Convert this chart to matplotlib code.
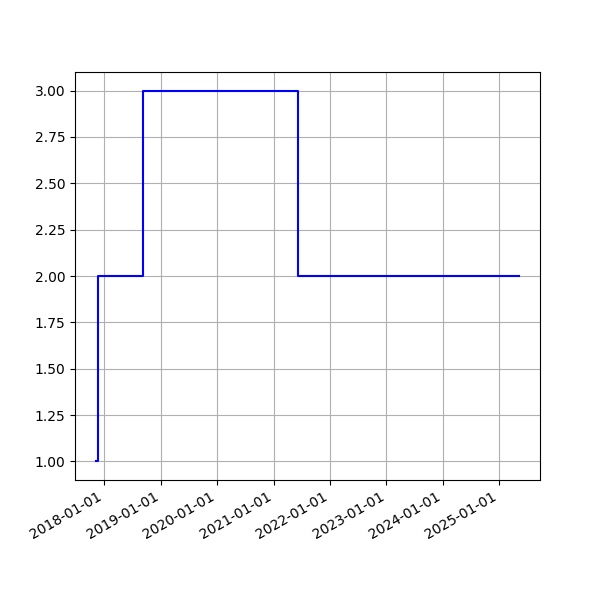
import matplotlib
matplotlib.use('Agg')
import matplotlib.pyplot as plt
import matplotlib.dates as mdates
import numpy as np

# change points and the level after each one
dates = np.array(['2017-11-10', '2017-11-25', '2018-09-10', '2021-06-10', '2025-05-08'],
                 dtype='datetime64[D]')
levels = [1, 2, 3, 2, 2]

fig, ax = plt.subplots(figsize=(6, 6), dpi=100)
ax.step(dates, levels, where='post', color='b')
ax.grid(True)
ax.xaxis.set_major_locator(mdates.YearLocator())
ax.xaxis.set_major_formatter(mdates.DateFormatter('%Y-%m-%d'))
fig.autofmt_xdate()
fig.savefig('out.png')
